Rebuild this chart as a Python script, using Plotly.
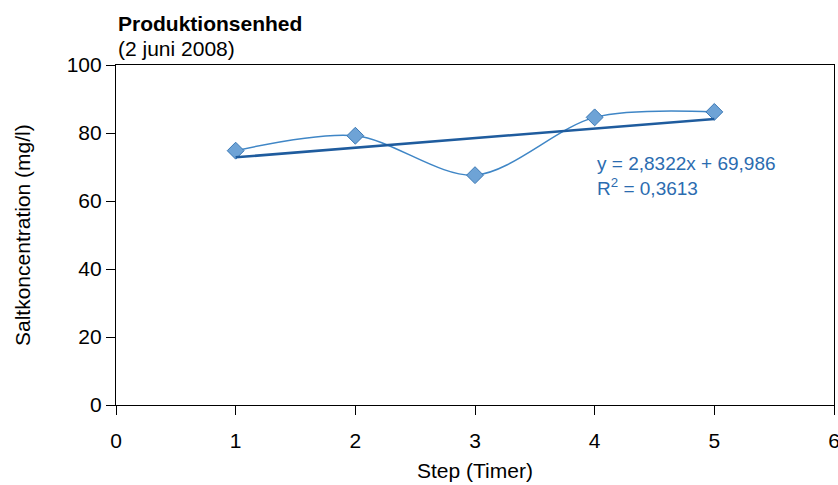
import numpy as np
import plotly.graph_objects as go

steps = [1, 2, 3, 4, 5]
salt = [74.8, 79.2, 67.6, 84.6, 86.2]
x_ticks = [0, 1, 2, 3, 4, 5, 6]
y_ticks = [0, 20, 40, 60, 80, 100]
title_text = "Produktionsenhed"
subtitle_text = "(2 juni 2008)"
x_title = "Step (Timer)"
y_title = "Saltkoncentration (mg/l)"
eq_text = "y = 2,8322x + 69,986<br>R<sup>2</sup> = 0,3613"

slope, intercept = np.polyfit(steps, salt, 1)
trend_x = [steps[0], steps[-1]]
trend_y = [slope * v + intercept for v in trend_x]

FONT = "Liberation Sans, Arial, Helvetica, sans-serif"

fig = go.Figure()
fig.add_trace(go.Scatter(
    x=steps, y=salt, mode="lines+markers",
    line=dict(color="#3f86c6", width=1.5, shape="spline", smoothing=0.9),
    marker=dict(symbol="diamond", size=13, color="#6ea3d6",
                line=dict(color="#3a78b5", width=1)),
    showlegend=False, hoverinfo="x+y"))
fig.add_trace(go.Scatter(
    x=trend_x, y=trend_y, mode="lines",
    line=dict(color="#1f5c9e", width=2.5),
    showlegend=False, hoverinfo="skip"))

axis_common = dict(showgrid=False, zeroline=False, showline=True,
                   linecolor="black", linewidth=1.2, mirror=True,
                   ticks="outside", ticklen=9, tickcolor="black",
                   automargin=False, tickfont=dict(size=21),
                   ticklabeloverflow="allow")

fig.update_layout(
    width=838, height=485,
    margin=dict(l=116, r=4, t=65, b=80),
    paper_bgcolor="white", plot_bgcolor="white",
    font=dict(family=FONT, size=20, color="black"),
    xaxis=dict(range=[0, 6], tickvals=x_ticks, ticklabelstandoff=8, **axis_common),
    yaxis=dict(range=[0, 100], tickvals=y_ticks, **axis_common),
    annotations=[
        dict(text="<b>" + title_text + "</b>", xref="paper", yref="paper",
             x=0, y=1, xanchor="left", yanchor="middle", yshift=42,
             showarrow=False, font=dict(size=21)),
        dict(text=subtitle_text, xref="paper", yref="paper",
             x=0, y=1, xanchor="left", yanchor="middle", yshift=17,
             showarrow=False, font=dict(size=21)),
        dict(text=x_title, xref="paper", yref="paper",
             x=0.5, y=0, xanchor="center", yanchor="middle", yshift=-65,
             showarrow=False, font=dict(size=21)),
        dict(text=y_title, xref="paper", yref="paper", textangle=-90,
             x=0, y=0.5, xanchor="center", yanchor="middle", xshift=-94,
             showarrow=False, font=dict(size=21)),
        dict(text=eq_text, xref="x", yref="y", x=4.0, y=71.2,
             xanchor="left", yanchor="top", align="left", showarrow=False,
             yshift=12, font=dict(size=19, color="#2b6cb0")),
    ],
)

fig.write_html(
    "out.html",
    config={"responsive": False, "displayModeBar": False},
    post_script="document.body.style.margin='0';"
                "document.body.style.padding='0';"
                "document.documentElement.style.overflow='hidden';",
)
